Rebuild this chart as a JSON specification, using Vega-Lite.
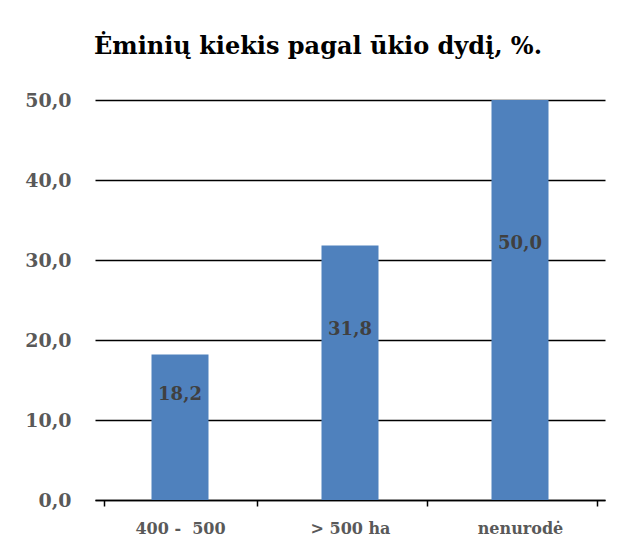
{
  "$schema": "https://vega.github.io/schema/vega-lite/v6.json",
  "width": 510,
  "height": 400,
  "autosize": {"type": "none"},
  "padding": {"left": 95, "top": 100, "right": 15, "bottom": 53},
  "background": "white",
  "config": {
    "locale": {"number": {"decimal": ",", "thousands": " ", "grouping": [3], "currency": ["", " €"]}},
    "view": {"stroke": null},
    "font": "DejaVu Serif"
  },
  "title": {
    "text": "Ėminių kiekis pagal ūkio dydį, %.",
    "font": "DejaVu Serif",
    "fontSize": 24,
    "fontWeight": "bold",
    "color": "#000000",
    "anchor": "middle",
    "frame": "group",
    "dx": -32,
    "offset": 32
  },
  "data": {
    "values": [
      {"category": "400 - \u00a0500", "value": 18.2},
      {"category": "> 500 ha", "value": 31.8},
      {"category": "nenurodė", "value": 50.0}
    ]
  },
  "encoding": {
    "x": {
      "field": "category",
      "type": "nominal",
      "sort": null,
      "axis": {
        "title": null,
        "labelAngle": 0,
        "labelFont": "DejaVu Serif",
        "labelFontSize": 16,
        "labelFontWeight": "bold",
        "labelColor": "#595959",
        "labelPadding": 14,
        "domainColor": "#000000",
        "domainWidth": 1.5,
        "tickColor": "#000000",
        "tickWidth": 1.5,
        "tickSize": 6,
        "tickBand": "extent"
      }
    }
  },
  "layer": [
    {
      "mark": {"type": "bar", "color": "#4F81BD", "size": 57},
      "encoding": {
        "y": {
          "field": "value",
          "type": "quantitative",
          "scale": {"domain": [0, 50], "nice": false},
          "axis": {
            "title": null,
            "values": [0, 10, 20, 30, 40, 50],
            "format": ".1f",
            "labelFont": "DejaVu Serif",
            "labelFontSize": 19,
            "labelFontWeight": "bold",
            "labelColor": "#595959",
            "labelPadding": 24,
            "ticks": false,
            "domain": false,
            "grid": true,
            "gridColor": "#000000",
            "gridWidth": 1.5
          }
        }
      }
    },
    {
      "mark": {"type": "text", "font": "DejaVu Serif", "fontSize": 18, "fontWeight": "bold", "color": "#404040", "baseline": "middle"},
      "encoding": {
        "y": {
          "field": "value",
          "type": "quantitative",
          "scale": {"domain": [-3.9, 80.3], "nice": false, "zero": false},
          "axis": null
        },
        "text": {"field": "value", "type": "quantitative", "format": ".1f"}
      }
    }
  ],
  "resolve": {"scale": {"y": "independent"}}
}
